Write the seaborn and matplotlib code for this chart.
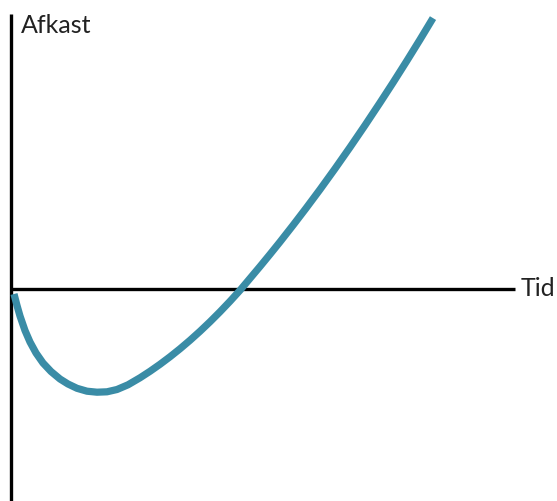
import pandas as pd
import matplotlib
matplotlib.use("Agg")
import matplotlib.pyplot as plt
import seaborn as sns

sns.set_style("white")
plt.rcParams["font.family"] = ["Lato", "DejaVu Sans"]

curveColor = "#3a8ca6"

# J-curve (pixel units, y grows downward)
tid = [14, 17, 20, 25, 30, 36, 43, 51, 60, 68, 77, 87, 97, 107, 117, 128, 140, 150,
       160, 170, 180, 190, 200, 210, 220, 230, 240, 250, 260, 270, 280, 293, 306, 320,
       335, 350, 365, 380, 393, 407, 420, 433]
afkast = [294, 305.5, 316, 330.5, 342, 353, 363, 371.5, 379, 384, 388.3, 391.2, 392.2, 391.8,
          389.5, 384.8, 377.8, 371.3, 364.3, 356.8, 348.8, 340.3, 331.3, 321.8, 311.8, 301.3,
          290.3, 278.4, 266.5, 254.3, 241.9, 225.3, 208.3, 189.5, 168.7, 147.3, 125.3, 102.7,
          82.7, 60.6, 39.6, 18.1]

xLabel = "Tid"
yLabel = "Afkast"

df = pd.DataFrame({"tid": tid, "afkast": afkast})

fig = plt.figure(figsize=(5.57, 5.01), dpi=100)
ax = fig.add_axes([0, 0, 1, 1])
ax.set_xlim(0, 557)
ax.set_ylim(501, 0)
ax.axis("off")

# axes drawn by hand
ax.plot([11, 11], [14, 501], color="black", lw=2.4, solid_capstyle="butt")
ax.plot([11, 515], [289, 289], color="black", lw=2.4, solid_capstyle="butt")

sns.lineplot(data=df, x="tid", y="afkast", ax=ax, color=curveColor, lw=5.2,
             sort=False, estimator=None)
ax.lines[-1].set_solid_capstyle("butt")
ax.lines[-1].set_solid_joinstyle("round")

ax.text(21, 25, yLabel, fontsize=18, va="center", ha="left", color="#222222")
ax.text(521, 289, xLabel, fontsize=18, va="center", ha="left", color="#222222")

fig.savefig("out.png", dpi=100, facecolor="white")
